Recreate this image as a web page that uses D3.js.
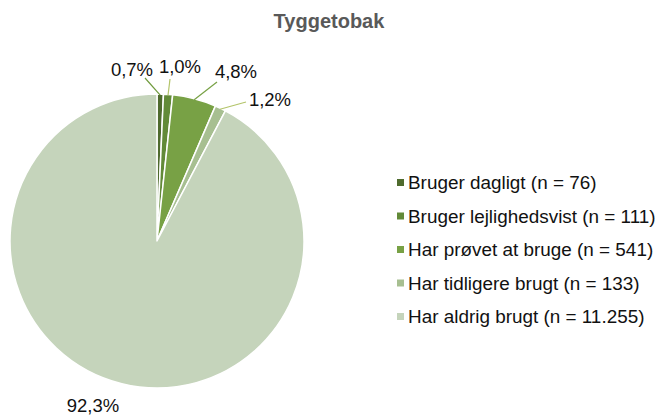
<!DOCTYPE html>
<html>
<head>
<meta charset="utf-8">
<script src="https://cdn.jsdelivr.net/npm/d3@7/dist/d3.min.js"></script>
<style>
  html, body { margin: 0; padding: 0; background: #fff; }
  svg { display: block; font-family: "Liberation Sans", Arial, sans-serif; }
</style>
</head>
<body>
<svg id="chart" width="657" height="416"></svg>
<script>
// Tyggetobak – brugsmønster
const categories = [
  "Bruger dagligt (n = 76)",
  "Bruger lejlighedsvist (n = 111)",
  "Har prøvet at bruge (n = 541)",
  "Har tidligere brugt (n = 133)",
  "Har aldrig brugt (n = 11.255)"
];
const shares = [0.7, 1.0, 4.8, 1.2, 92.3];
const shareLabels = ["0,7%", "1,0%", "4,8%", "1,2%", "92,3%"];

const sliceColors = ["#4f6b2e", "#628a38", "#78a145", "#a7bf91", "#c5d4bb"];
const leaderColors = ["#6f9a3c", "#b3c46a", "#78a145", "#b3c46a"];

// label layout (text anchor point, leader start point)
const labelAt = [[132, 76], [180, 73], [236, 78], [270, 106], [93, 412]];
const leaderFrom = [[145, 78], [170, 79], [217, 82], [246, 102], null];

const svg = d3.select("#chart");
const cx = 157, cy = 241, R = 147;

svg.append("text")
  .attr("x", 329).attr("y", 28)
  .attr("text-anchor", "middle")
  .attr("font-weight", "bold")
  .attr("font-size", 20)
  .attr("fill", "#595959")
  .text("Tyggetobak");

const pie = d3.pie().sort(null).value(d => d);
const arcs = pie(shares);
const arc = d3.arc().innerRadius(0).outerRadius(R);

const g = svg.append("g").attr("transform", `translate(${cx},${cy})`);
g.selectAll("path.slice")
  .data(arcs)
  .join("path")
  .attr("class", "slice")
  .attr("d", arc)
  .attr("fill", (d, i) => sliceColors[i])
  .attr("stroke", "#fff")
  .attr("stroke-width", 1.5)
  .attr("stroke-linejoin", "round");

// leader lines to the outer edge of each small slice
arcs.forEach((d, i) => {
  const from = leaderFrom[i];
  if (!from) return;
  const a = (d.startAngle + d.endAngle) / 2;
  const ex = cx + (R - 1) * Math.sin(a);
  const ey = cy - (R - 1) * Math.cos(a);
  svg.append("line")
    .attr("x1", from[0]).attr("y1", from[1])
    .attr("x2", ex).attr("y2", ey)
    .attr("stroke", leaderColors[i])
    .attr("stroke-width", 1.2);
});

svg.selectAll("text.pct")
  .data(shareLabels)
  .join("text")
  .attr("class", "pct")
  .attr("x", (d, i) => labelAt[i][0])
  .attr("y", (d, i) => labelAt[i][1])
  .attr("text-anchor", "middle")
  .attr("font-size", 18.5)
  .attr("fill", "#111")
  .text(d => d);

// legend
const legend = svg.append("g").attr("transform", "translate(397,0)");
const rowY = d3.scalePoint().domain(categories).range([182.5, 316.5]);
categories.forEach((c, i) => {
  const y = rowY(c);
  legend.append("rect")
    .attr("x", 0).attr("y", y - 3.5)
    .attr("width", 7).attr("height", 7)
    .attr("fill", sliceColors[i]);
  legend.append("text")
    .attr("x", 11).attr("y", y)
    .attr("dy", "0.36em")
    .attr("font-size", 18.9)
    .attr("fill", "#111")
    .text(c);
});
</script>
</body>
</html>
